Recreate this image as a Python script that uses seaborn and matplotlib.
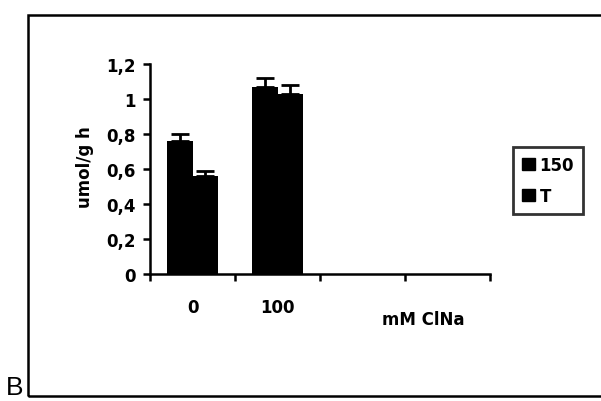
import matplotlib
matplotlib.use("Agg")
import matplotlib.pyplot as plt
import seaborn as sns
import pandas as pd
from matplotlib.patches import Rectangle, Patch

categories = ["0", "100"]
series = ["150", "T"]
values_150 = [0.76, 1.07]
values_T = [0.56, 1.03]
err_150 = [0.04, 0.05]
err_T = [0.03, 0.05]
yticks = [0, 0.2, 0.4, 0.6, 0.8, 1.0, 1.2]
ytick_labels = ["0", "0,2", "0,4", "0,6", "0,8", "1", "1,2"]

sns.set_style("white")
plt.rcParams["font.family"] = ["DejaVu Sans"]
plt.rcParams["text.color"] = "black"
plt.rcParams["axes.labelcolor"] = "black"
plt.rcParams["xtick.color"] = "black"
plt.rcParams["ytick.color"] = "black"

df = pd.DataFrame({
    "cond": categories * 2,
    "serie": [series[0]] * 2 + [series[1]] * 2,
    "val": values_150 + values_T,
    "err": err_150 + err_T,
})

fig = plt.figure(figsize=(6.01, 4.02), dpi=100)
ax = fig.add_axes([150 / 601, 1 - 275 / 402, 340 / 601, 210 / 402])

sns.barplot(data=df, x="cond", y="val", hue="serie", order=categories,
            hue_order=series, palette=["black", "black"], width=0.6,
            edgecolor="black", linewidth=0, errorbar=None, ax=ax, legend=False)

# error bars (upward only)
for p, (s, c) in zip(ax.patches, [(s, c) for s in series for c in categories]):
    row = df[(df.serie == s) & (df.cond == c)].iloc[0]
    xc = p.get_x() + p.get_width() / 2
    ax.errorbar([xc], [row.val], yerr=[[0], [row.err]], fmt="none",
                ecolor="black", elinewidth=2, capsize=6.5, capthick=2)

ax.set_xlim(-0.5, 3.5)
ax.set_ylim(0, 1.2)
ax.set_xticks([-0.5, 0.5, 1.5, 2.5, 3.5])
ax.set_xticklabels([])
ax.set_xticks([0, 1], minor=True)
ax.set_xticklabels(categories, minor=True, fontsize=12, fontweight="bold",
                   color="black")
ax.tick_params(axis="x", which="major", direction="out", length=5, width=1.8,
               color="black", bottom=True)
ax.tick_params(axis="x", which="minor", length=0, pad=17)
ax.set_yticks(yticks)
ax.set_yticklabels(ytick_labels, fontsize=12, fontweight="bold", color="black")
ax.tick_params(axis="y", direction="out", length=5, width=1.8, color="black",
               left=True, pad=5)
ax.set_xlabel("")
ax.set_ylabel("umol/g h", fontsize=12, fontweight="bold", color="black")
ax.yaxis.set_label_coords(-0.165, 0.514)
for side in ["top", "right"]:
    ax.spines[side].set_visible(False)
for side in ["left", "bottom"]:
    ax.spines[side].set_color("black")
    ax.spines[side].set_linewidth(1.8)

fig.text(423 / 601, 1 - 320 / 402, "mM ClNa", fontsize=12, fontweight="bold",
         ha="center", va="center", color="black")

handles = [Patch(facecolor="black", edgecolor="black", label=s) for s in series]
leg = fig.legend(handles=handles, loc="upper left",
                 bbox_to_anchor=(513 / 601, 1 - 148 / 402),
                 frameon=True, fancybox=False, edgecolor="black",
                 prop={"weight": "bold", "size": 12},
                 handlelength=0.75, handleheight=0.75, handletextpad=0.3,
                 borderpad=0.55, labelspacing=0.75, borderaxespad=0)
leg.get_frame().set_linewidth(2)
for t in leg.get_texts():
    t.set_color("black")

fig.patches.append(Rectangle((28 / 601, 1 - 397 / 402), 1.0, (397 - 16) / 402,
                             transform=fig.transFigure, fill=False,
                             edgecolor="black", linewidth=1.8))
fig.text(15 / 601, 1 - 388 / 402, "B", fontsize=19, ha="center", va="center",
         family="Liberation Sans", color="black")

fig.savefig("out.png", dpi=100)
